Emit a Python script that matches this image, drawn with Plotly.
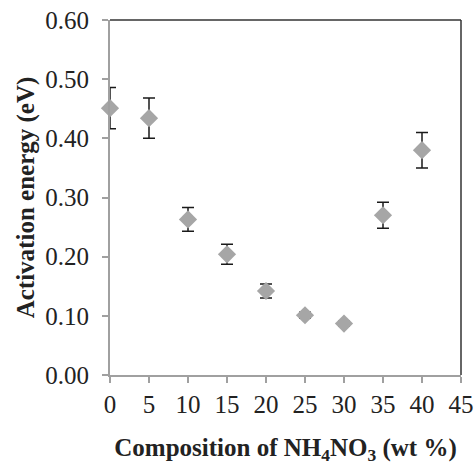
import plotly.graph_objects as go

composition = [0, 5, 10, 15, 20, 25, 30, 35, 40]
activation_energy = [0.451, 0.434, 0.263, 0.204, 0.142, 0.101, 0.087, 0.270, 0.380]
error = [0.035, 0.034, 0.020, 0.017, 0.012, 0.005, 0.004, 0.022, 0.030]
x_ticks = [0, 5, 10, 15, 20, 25, 30, 35, 40, 45]
y_ticks = [0.0, 0.1, 0.2, 0.3, 0.4, 0.5, 0.6]

fig = go.Figure()
fig.add_trace(go.Scatter(
    x=composition, y=activation_energy, mode="markers",
    marker=dict(symbol="diamond", size=14, color="#a6a6a6", line=dict(width=0)),
    error_y=dict(type="data", array=error, visible=True, color="#1a1a1a", thickness=1.5, width=6),
    showlegend=False, cliponaxis=False,
))

font_family = "Liberation Serif"
axis_gray = "#a0a0a0"
text_color = "#222"

fig.update_layout(
    width=476, height=465,
    margin=dict(l=110, r=15, t=20, b=90),
    paper_bgcolor="white", plot_bgcolor="white",
    font=dict(family=font_family, size=25, color=text_color),
    xaxis=dict(
        range=[0, 45], tickvals=x_ticks, ticktext=[str(v) for v in x_ticks],
        showgrid=False, zeroline=False, showline=True, linecolor=axis_gray, linewidth=2,
        ticks="outside", ticklen=6, tickcolor=axis_gray, tickwidth=1.5,
        tickfont=dict(family=font_family, size=25, color=text_color),
        title=dict(text="<b>Composition of NH<sub>4</sub>NO<sub>3</sub> (wt %)</b>",
                   font=dict(family=font_family, size=25, color=text_color), standoff=29),
        automargin=False,
    ),
    yaxis=dict(
        range=[0, 0.6], tickvals=y_ticks, tickformat=".2f",
        showgrid=False, zeroline=False, showline=True, linecolor=axis_gray, linewidth=2,
        ticks="outside", ticklen=6, tickcolor=axis_gray, tickwidth=1.5,
        ticklabelstandoff=8,
        tickfont=dict(family=font_family, size=25, color=text_color),
        title=dict(text="<b>Activation energy (eV)</b>",
                   font=dict(family=font_family, size=25, color=text_color), standoff=4),
        automargin=False,
    ),
    shapes=[
        dict(type="line", xref="paper", yref="paper", x0=0, x1=1, y0=1, y1=1,
             line=dict(color="#333", width=1.5)),
        dict(type="line", xref="paper", yref="paper", x0=1, x1=1, y0=0, y1=1,
             line=dict(color="#333", width=1.5)),
    ],
)

fig.write_html("out.html")
